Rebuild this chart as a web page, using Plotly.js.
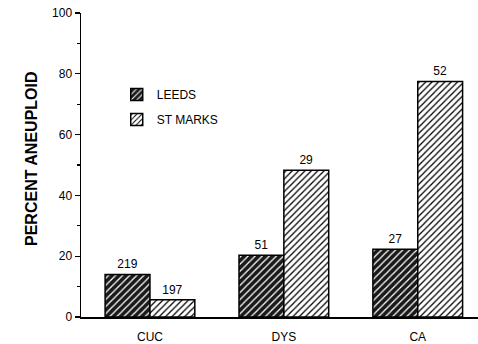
<!DOCTYPE html>
<html>
<head>
<meta charset="utf-8">
<script src="https://cdn.plot.ly/plotly-3.0.1.min.js"></script>
<style>html,body{margin:0;padding:0;background:#fff;}#chart{width:478px;height:344px;}</style>
</head>
<body>
<div id="chart"></div>
<script>
const categories = ["CUC", "DYS", "CA"];
const leedsValues = [14, 20.3, 22.3];
const stMarksValues = [5.7, 48.3, 77.5];
const leedsCounts = ["219", "51", "27"];
const stMarksCounts = ["197", "29", "52"];
const seriesNames = ["LEEDS", "ST MARKS"];
const yTickVals = [0, 20, 40, 60, 80, 100];
const yAxisTitle = "PERCENT ANEUPLOID";

const FONT = "Liberation Sans, Arial, Helvetica, sans-serif";

const traces = [
  {
    type: "bar", name: seriesNames[0], legendgroup: "a",
    x: [0, 1, 2], y: leedsValues, text: leedsCounts,
    textposition: "outside", cliponaxis: false,
    textfont: {family: FONT, size: 12, color: "#000"},
    marker: {
      color: "#1a1a1a",
      line: {color: "#000", width: 1.5},
      pattern: {shape: "/", bgcolor: "#1a1a1a", fgcolor: "#ffffff", size: 5, solidity: 0.25, fillmode: "replace"}
    }
  },
  {
    type: "bar", name: seriesNames[1], legendgroup: "b",
    x: [0, 1, 2], y: stMarksValues, text: stMarksCounts,
    textposition: "outside", cliponaxis: false,
    textfont: {family: FONT, size: 12, color: "#000"},
    marker: {
      color: "#ffffff",
      line: {color: "#000", width: 1.5},
      pattern: {shape: "/", bgcolor: "#ffffff", fgcolor: "#000000", size: 4.5, solidity: 0.28, fillmode: "replace"}
    }
  }
];

const layout = {
  width: 478, height: 344,
  margin: {l: 81, r: 0, t: 13, b: 27},
  paper_bgcolor: "#fff", plot_bgcolor: "#fff",
  font: {family: FONT, size: 12, color: "#000"},
  barmode: "group", bargap: 0.33, bargroupgap: 0,
  showlegend: true,
  legend: {
    x: 0.09, y: 0.78, xanchor: "left", yanchor: "top",
    bgcolor: "rgba(0,0,0,0)", font: {family: FONT, size: 12, color: "#000"},
    tracegroupgap: 6
  },
  xaxis: {
    range: [-0.515, 2.45],
    tickvals: [0, 1, 2], ticktext: categories,
    showline: true, linecolor: "#000", linewidth: 1.5,
    showgrid: false, zeroline: false,
    ticks: "outside", ticklen: 8, tickcolor: "rgba(0,0,0,0)",
    tickfont: {family: FONT, size: 12, color: "#000"}
  },
  yaxis: {
    range: [0, 100],
    tickvals: yTickVals,
    showline: true, linecolor: "#000", linewidth: 1.5,
    showgrid: false, zeroline: false,
    ticks: "outside", ticklen: 5, tickwidth: 1.2, tickcolor: "#000",
    minor: {dtick: 10, ticks: "outside", ticklen: 3, tickcolor: "#000", showgrid: false},
    tickfont: {family: FONT, size: 12, color: "#000"},
    title: {text: ""}
  },
  annotations: [
    {
      text: "<b>" + yAxisTitle + "</b>", xref: "paper", yref: "paper",
      x: -0.126, y: 0.523, textangle: -90, showarrow: false,
      xanchor: "center", yanchor: "middle",
      font: {family: FONT, size: 16, color: "#000"}
    }
  ]
};

Plotly.newPlot("chart", traces, layout, {displayModeBar: false, staticPlot: true});
</script>
</body>
</html>
